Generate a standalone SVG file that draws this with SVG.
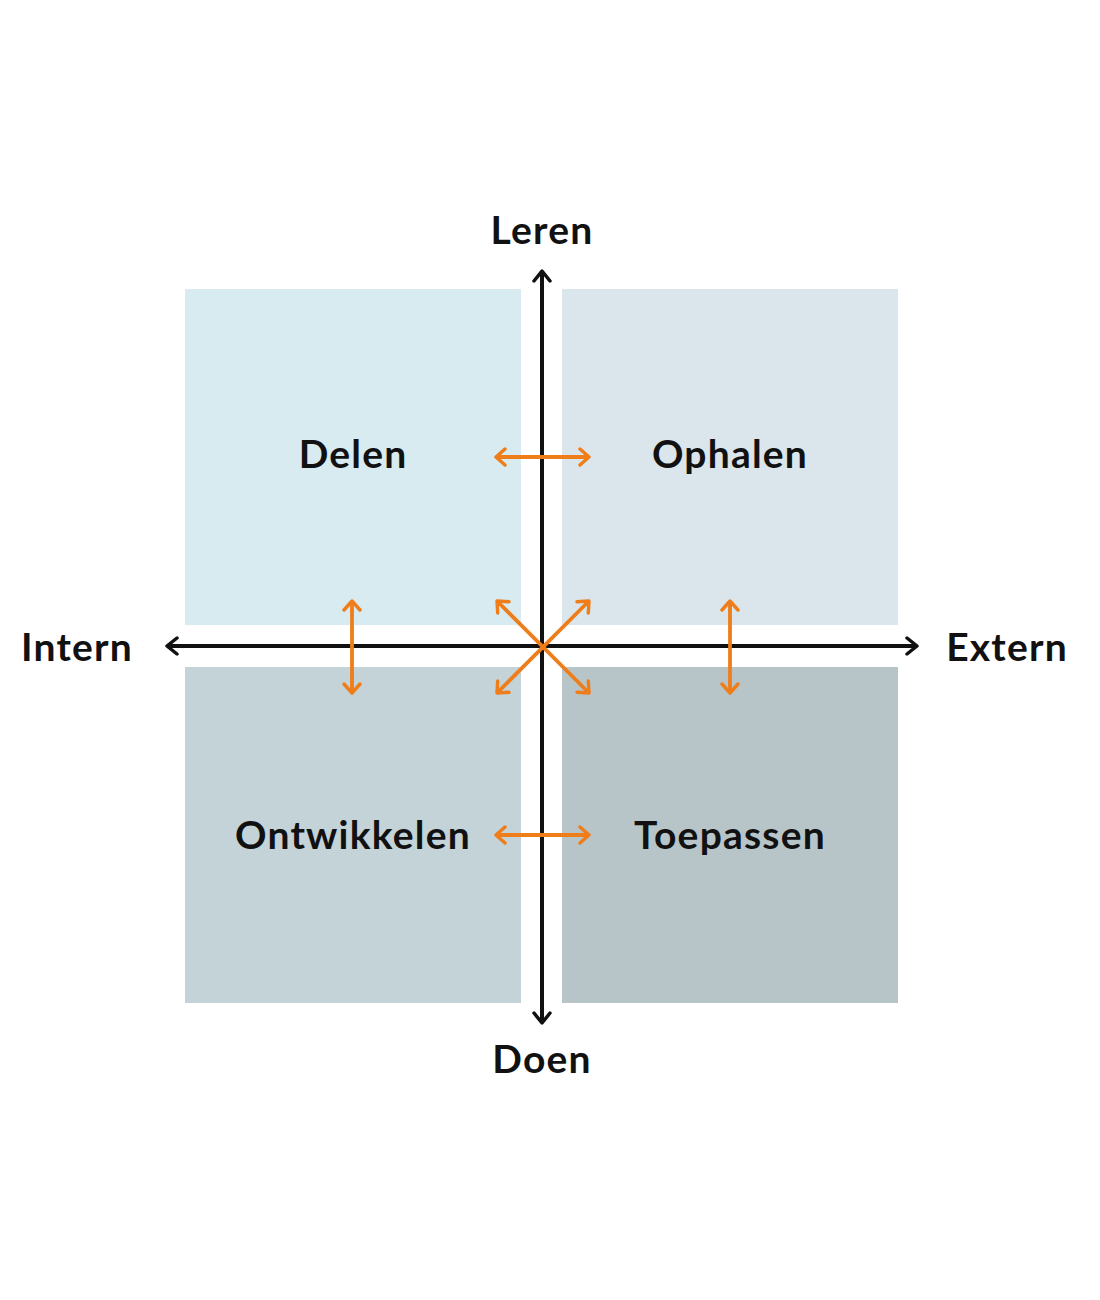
<svg xmlns="http://www.w3.org/2000/svg" width="1100" height="1300" viewBox="0 0 1100 1300">
<style>
.lbl{font-family:"Lato","Liberation Sans",sans-serif;font-weight:700;font-size:39px;letter-spacing:1.2px;fill:#111;text-anchor:middle}
.ax{stroke:#111;stroke-width:4;fill:none}
.or{stroke:#ee7d1a;stroke-width:3.8;fill:none}
</style>
<defs>
<marker id="ak" viewBox="0 0 20 20" refX="14" refY="10" markerWidth="20" markerHeight="20" markerUnits="userSpaceOnUse" orient="auto-start-reverse">
<path d="M4,2 L14,10 L4,18" fill="none" stroke="#111" stroke-width="3.5" stroke-linecap="round" stroke-linejoin="round"/>
</marker>
<marker id="ao" viewBox="0 0 20 20" refX="14" refY="10" markerWidth="20" markerHeight="20" markerUnits="userSpaceOnUse" orient="auto-start-reverse">
<path d="M5,2 L14,10 L5,18" fill="none" stroke="#ee7d1a" stroke-width="3.4" stroke-linecap="round" stroke-linejoin="round"/>
</marker>
</defs>
<rect width="1100" height="1300" fill="#fff"/>
<g id="delen"><rect x="185" y="289" width="336" height="336" fill="#d7ebf1"/><text class="lbl" x="353" y="468">Delen</text></g>
<g id="ophalen"><rect x="562" y="289" width="336" height="336" fill="#dae6eb"/><text class="lbl" x="730" y="468">Ophalen</text></g>
<g id="ontwikkelen"><rect x="185" y="667" width="336" height="336" fill="#c4d3d8"/><text class="lbl" x="353" y="849">Ontwikkelen</text></g>
<g id="toepassen"><rect x="562" y="667" width="336" height="336" fill="#b7c5c9"/><text class="lbl" x="730" y="849">Toepassen</text></g>
<g id="leren"><text class="lbl" x="542" y="244">Leren</text></g>
<g id="doen"><text class="lbl" x="542" y="1073">Doen</text></g>
<g id="intern"><text class="lbl" x="77" y="661">Intern</text></g>
<g id="extern"><text class="lbl" x="1007" y="661">Extern</text></g>
<g id="connectors">
<line class="ax" x1="542" y1="1023" x2="542" y2="271" marker-start="url(#ak)" marker-end="url(#ak)"/>
<line class="ax" x1="167" y1="646" x2="917" y2="646" marker-start="url(#ak)" marker-end="url(#ak)"/>
<line class="or" x1="496" y1="457" x2="589" y2="457" marker-start="url(#ao)" marker-end="url(#ao)"/>
<line class="or" x1="496" y1="835" x2="589" y2="835" marker-start="url(#ao)" marker-end="url(#ao)"/>
<line class="or" x1="352" y1="601" x2="352" y2="693" marker-start="url(#ao)" marker-end="url(#ao)"/>
<line class="or" x1="730" y1="601" x2="730" y2="693" marker-start="url(#ao)" marker-end="url(#ao)"/>
<line class="or" x1="497" y1="601" x2="589" y2="693" marker-start="url(#ao)" marker-end="url(#ao)"/>
<line class="or" x1="589" y1="601" x2="497" y2="693" marker-start="url(#ao)" marker-end="url(#ao)"/>
</g>
</svg>
